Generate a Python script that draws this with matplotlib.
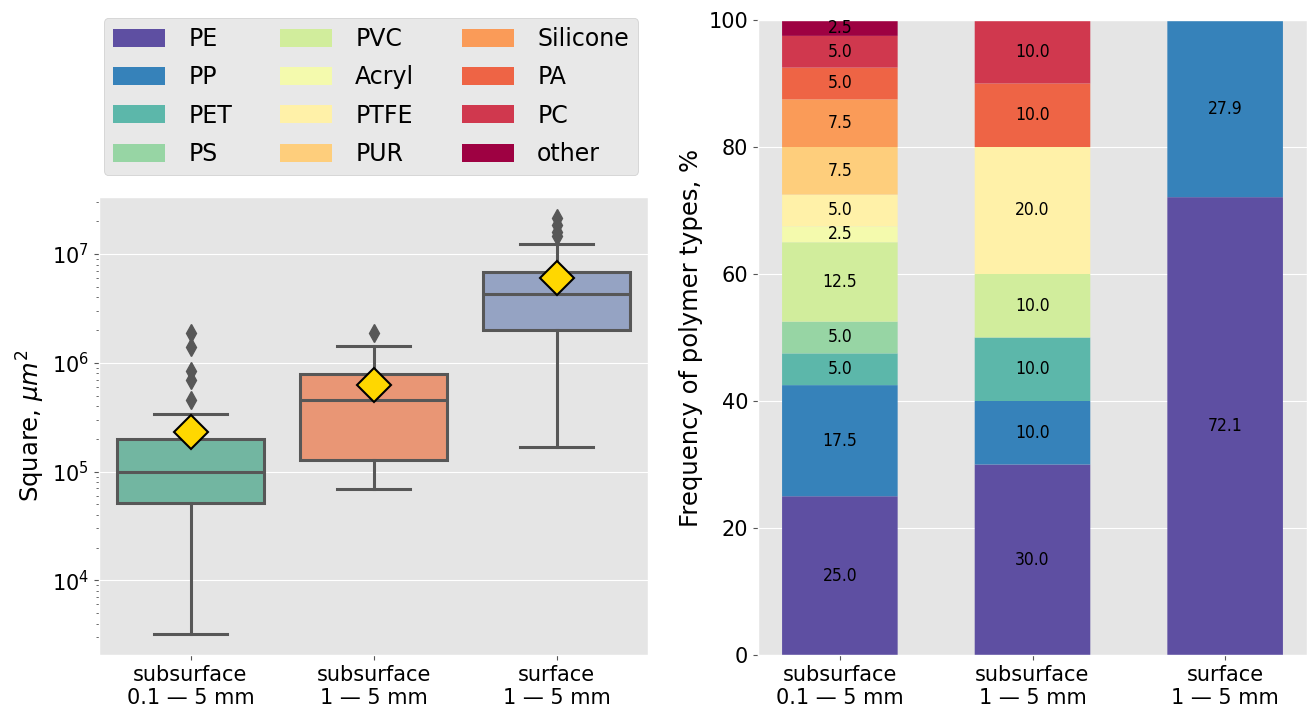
import colorsys
import matplotlib
matplotlib.use("Agg")
import matplotlib.pyplot as plt
import matplotlib.colors as mcolors
import numpy as np

plt.style.use("ggplot")

# ------------------------------
# data
# ------------------------------
groups = ["subsurface\n0.1 — 5 mm", "subsurface\n1 — 5 mm", "surface\n1 — 5 mm"]

# box plot statistics, square in um^2
box_q1 = [5.1e4, 1.28e5, 2.0e6]
box_med = [1.0e5, 4.5e5, 4.28e6]
box_q3 = [2.0e5, 7.9e5, 6.86e6]
box_whislo = [3.2e3, 6.95e4, 1.69e5]
box_whishi = [3.37e5, 1.43e6, 1.24e7]
box_mean = [2.3e5, 6.2e5, 5.96e6]
box_fliers = [
    [4.5e5, 7.0e5, 8.4e5, 1.41e6, 1.87e6],
    [1.87e6],
    [1.45e7, 1.6e7, 1.85e7, 2.15e7],
]

# polymer type frequencies, %
polymers = ["PE", "PP", "PET", "PS", "PVC", "Acryl", "PTFE", "PUR",
            "Silicone", "PA", "PC", "other"]
pe = [25.0, 30.0, 72.1]
pp = [17.5, 10.0, 27.9]
pet = [5.0, 10.0, 0.0]
ps = [5.0, 0.0, 0.0]
pvc = [12.5, 10.0, 0.0]
acryl = [2.5, 0.0, 0.0]
ptfe = [5.0, 20.0, 0.0]
pur = [7.5, 0.0, 0.0]
silicone = [7.5, 0.0, 0.0]
pa = [5.0, 10.0, 0.0]
pc = [5.0, 10.0, 0.0]
other = [2.5, 0.0, 0.0]
freqs = [pe, pp, pet, ps, pvc, acryl, ptfe, pur, silicone, pa, pc, other]


def desaturate(color, prop):
    r, g, b = mcolors.to_rgb(color)
    h, l, s = colorsys.rgb_to_hls(r, g, b)
    return colorsys.hls_to_rgb(h, l, s * prop)


fig = plt.figure(figsize=(13.09, 7.15), dpi=100)
W, H = 1309, 715
ax1 = fig.add_axes([99 / W, 1 - 655 / H, 549 / W, (655 - 197) / H])
ax2 = fig.add_axes([758 / W, 1 - 655 / H, 549 / W, (655 - 20) / H])

# ------------------------------
# Box plot
# ------------------------------
stats = []
for i in range(len(groups)):
    stats.append(dict(q1=box_q1[i], med=box_med[i], q3=box_q3[i],
                      whislo=box_whislo[i], whishi=box_whishi[i],
                      mean=box_mean[i], fliers=box_fliers[i], label=groups[i]))

gray = "#575757"
box_colors = [desaturate(c, 0.75) for c in ["#66c2a5", "#fc8d62", "#8da0cb"]]
bp = ax1.bxp(stats, positions=range(3), widths=0.8, capwidths=0.4,
             patch_artist=True, showmeans=True,
             boxprops=dict(edgecolor=gray, linewidth=2.2),
             medianprops=dict(color=gray, linewidth=2.2),
             whiskerprops=dict(color=gray, linewidth=2.2),
             capprops=dict(color=gray, linewidth=2.2),
             flierprops=dict(marker="d", markerfacecolor=gray, markeredgecolor=gray,
                             markersize=9),
             meanprops=dict(marker="D", markerfacecolor="gold", markeredgecolor="black",
                            markeredgewidth=1.5, markersize=17))
for patch, c in zip(bp["boxes"], box_colors):
    patch.set_facecolor(c)
ax1.set_yscale("log")
ax1.set_xlim(-0.5, 2.5)
ax1.grid(axis="x", visible=False)
ax1.set_ylabel(r"Square, $\mu m^2$", fontsize=17.5, color="black")
ax1.tick_params(axis="both", labelsize=15, labelcolor="black")

# ------------------------------
# Stacked bars
# ------------------------------
cmap = plt.get_cmap("Spectral_r")
colors = [cmap(v) for v in np.linspace(0, 1, len(polymers))]
x = np.arange(len(groups))
bottom = np.zeros(len(groups))
for name, vals, c in zip(polymers, freqs, colors):
    vals = np.array(vals)
    bars = ax2.bar(x, vals, width=0.6, bottom=bottom, color=c, label=name,
                   linewidth=0, snap=False)
    ax2.bar_label(bars, labels=[f"{v:.1f}" if v > 0 else "" for v in vals],
                  label_type="center", fontsize=12.5, fontstretch="condensed")
    bottom += vals
ax2.set_ylim(0, 100)
ax2.set_xlim(-0.425, 2.425)
ax2.set_xticks(x)
ax2.set_xticklabels(groups)
ax2.grid(axis="x", visible=False)
ax2.set_ylabel("Frequency of polymer types, %", fontsize=17.5, color="black")
ax2.tick_params(axis="both", labelsize=15, labelcolor="black")

handles, labels = ax2.get_legend_handles_labels()
fig.legend(handles, labels, loc="upper center", bbox_to_anchor=(371 / W, 1 - 6 / H),
           ncol=3, fontsize=17, handlelength=2.2, handleheight=0.8,
           handletextpad=1.0, columnspacing=2.0, labelspacing=0.6,
           facecolor="#e8e8e8", edgecolor="#cccccc", framealpha=1)

plt.savefig("out.png", dpi=100)
plt.close()
